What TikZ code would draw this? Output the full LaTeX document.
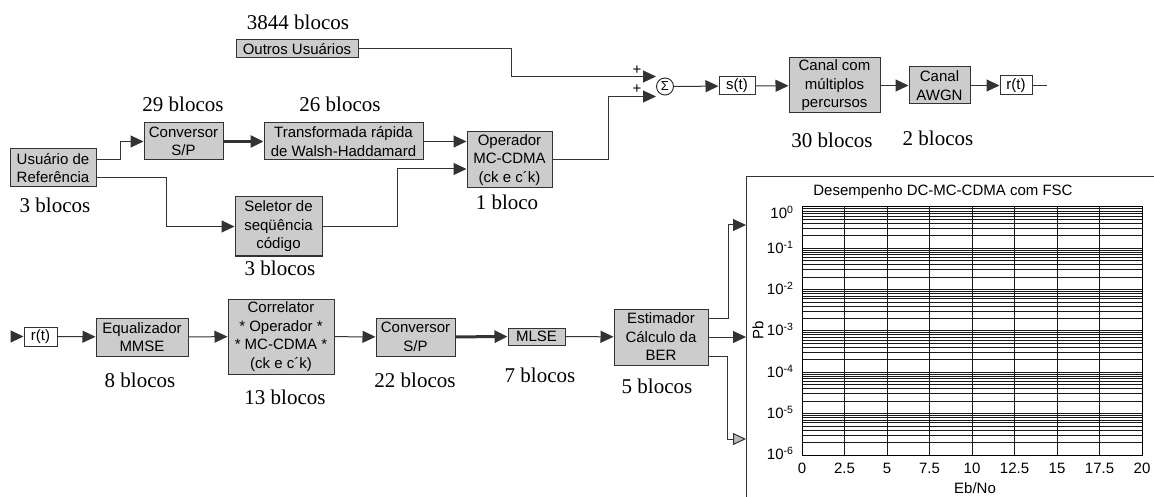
\documentclass[tikz,border=0pt]{standalone}
\usepackage{fontspec}
\setmainfont{Liberation Serif}
\setsansfont{Liberation Sans}
\usetikzlibrary{arrows.meta, calc, positioning}

\newcommand{\boxfont}{\sffamily\fontsize{15}{18.5}\selectfont}
\newcommand{\cntfont}{\rmfamily\fontsize{21}{24}\selectfont}
\tikzset{
  blk/.style={draw=black!80, fill=gray!40, font=\boxfont, align=center, inner sep=1pt, line width=1pt},
  sigbox/.style={draw=black!80, fill=white, font=\boxfont, inner sep=1pt, line width=1pt},
  cnt/.style={font=\cntfont},
  wire/.style={draw=black!80, line width=1pt},
  arr/.style={wire, -{Triangle[length=13pt,width=12pt]}},
  arrg/.style={wire, -{Triangle[length=13pt,width=12pt,fill=gray!55]}},
  grd/.style={draw=black!90, line width=1pt},
  tick/.style={font=\boxfont},
}

\begin{document}
\begin{tikzpicture}[x=1pt, y=-1pt]
\useasboundingbox (0,0) rectangle (1154,497);
% transmitter
\node[blk, minimum width=122pt, minimum height=18pt] (outros) at (297,49) {Outros Usuários};
\node[blk, minimum width=86pt, minimum height=38pt] (usr) at (53,168) {Usuário de\\Referência};
\node[blk, minimum width=79pt, minimum height=37pt] (conv1) at (183.5,141.5) {Conversor\\S/P};
\node[blk, minimum width=159pt, minimum height=37pt] (fwht) at (343.5,141.5) {Transformada rápida\\de Walsh-Haddamard};
\node[blk, minimum width=87pt, minimum height=59pt] (sel) at (278.5,226.5) {Seletor de\\seqüência\\código};
\node[blk, minimum width=85pt, minimum height=56pt] (op) at (509.5,160) {Operador\\MC-CDMA\\(ck e c´k)};
\node[circle, draw=black!80, line width=1pt, minimum size=17pt, inner sep=0pt, font=\sffamily\fontsize{13}{13}\selectfont] (sum) at (665,86.5) {Σ};
\node[font=\boxfont] (p1) at (637,70) {+};
\node[font=\boxfont] (p2) at (637,89) {+};
\node[sigbox, minimum width=36pt, minimum height=18pt] (st) at (737,86) {s(t)};
\node[blk, minimum width=91pt, minimum height=55pt] (mult) at (834.5,85.5) {Canal com\\múltiplos\\percursos};
\node[blk, minimum width=61pt, minimum height=37pt] (awgn) at (939.5,85.5) {Canal\\AWGN};
\node[sigbox, minimum width=32pt, minimum height=19pt] (rt1) at (1016,85.5) {r(t)};
\coordinate (rout) at (1047,85.5);

\draw[arr] ([yshift=8pt]usr.east) -- ++(24,0) |- (conv1.west);
\draw[arr] ([yshift=-10pt]usr.east) -- ++(70,0) |- (sel.west);
\draw[wire, line width=3pt, -{Triangle[length=13pt,width=12pt]}] (conv1) -- (fwht);
\draw[arr] (fwht.east) -- (fwht.east -| op.west);
\draw[arr] (sel.east) -- ++(75,0) |- ([yshift=-9pt]op.west);
\draw[arr] (op.east) -- ++(56,0) |- ([yshift=-10pt]sum.west);
\draw[arr] (outros.east) -- ++(153,0) |- ([yshift=10pt]sum.west);
\draw[arr] (sum) -- (st);
\draw[arr] (st) -- (mult);
\draw[arr] (mult) -- (awgn);
\draw[arr] (awgn) -- (rt1);
\draw[wire] (rt1) -- (rout);

% receiver
\coordinate (rin) at (12,336.5);
\node[sigbox, minimum width=33pt, minimum height=19pt] (rt2) at (40.5,336.5) {r(t)};
\node[blk, minimum width=92pt, minimum height=38pt] (eq) at (142,337) {Equalizador\\MMSE};
\node[blk, minimum width=106pt, minimum height=75pt] (corr) at (281,336.5) {Correlator\\* Operador *\\* MC-CDMA *\\(ck e c´k)};
\node[blk, minimum width=79pt, minimum height=38pt] (conv2) at (415.5,337) {Conversor\\S/P};
\node[blk, minimum width=57pt, minimum height=17pt] (mlse) at (536.5,336.5) {MLSE};
\node[blk, minimum width=94pt, minimum height=56pt] (est) at (661,337) {Estimador\\Cálculo da\\BER};

\draw[arr] (rin) -- (rt2);
\draw[arr] (rt2) -- (eq);
\draw[arr] (eq) -- (corr);
\draw[arr] (corr) -- (conv2);
\draw[wire, line width=3pt, -{Triangle[length=13pt,width=12pt]}] (conv2) -- (mlse);
\draw[arr] (mlse) -- (est);

% block counts
\node[cnt] (n1) at (298,22) {3844 blocos};
\node[cnt] (n2) at (183,104) {29 blocos};
\node[cnt] (n3) at (340,104) {26 blocos};
\node[cnt] (n4) at (55,205) {3 blocos};
\node[cnt] (n5) at (280,268) {3 blocos};
\node[cnt] (n6) at (507,202) {1 bloco};
\node[cnt] (n7) at (832,140) {30 blocos};
\node[cnt] (n8) at (938,138) {2 blocos};
\node[cnt] (n9) at (140,380) {8 blocos};
\node[cnt] (n10) at (285,397) {13 blocos};
\node[cnt] (n11) at (415,380) {22 blocos};
\node[cnt] (n12) at (540,375) {7 blocos};
\node[cnt] (n13) at (657,386) {5 blocos};

% BER plot
\draw[wire] (746,497) -- (746,177) -- (1154,177);
\node[tick] (ttl) at (943,192) {Desempenho DC-MC-CDMA com FSC};
\foreach \d in {0,...,5}{
  \foreach \m in {2,...,9}{
    \draw[grd] (802,{207+41.33*(\d+1-ln(\m)/ln(10))}) -- (1142,{207+41.33*(\d+1-ln(\m)/ln(10))});
  }
}
\foreach \d in {1,...,5}
  \draw[grd] (802,{207+41.33*\d}) -- (1142,{207+41.33*\d});
\foreach \i in {1,...,7}
  \draw[grd] ({802+42.5*\i},207) -- ({802+42.5*\i},455);
\draw[wire, draw=black] (802,207) rectangle (1142,455);
\node[tick, anchor=base east] at (797,219) {10\textsuperscript{0}};
\foreach \d in {1,...,6}
  \node[tick, anchor=base east] at (797,{212+41.33*\d}) {10\textsuperscript{-\d}};
\foreach \v [count=\i from 0] in {0,2.5,5,7.5,10,12.5,15,17.5,20}
  \node[tick] at ({802+42.5*\i},468) {\v};
\node[tick] (xlab) at (975,488) {Eb/No};
\node[tick, rotate=90] (ylab) at (758,330) {Pb};
\coordinate (pin1) at (746,225);
\coordinate (pin2) at (746,337);
\coordinate (pin3) at (746,439);

\draw[arr] ([yshift=19pt]est.east) -- ++(20,0) |- (pin1);
\draw[arr] (est.east) -- (pin2);
\draw[arrg] ([yshift=-19pt]est.east) -- ++(19,0) |- (pin3);
\end{tikzpicture}
\end{document}
